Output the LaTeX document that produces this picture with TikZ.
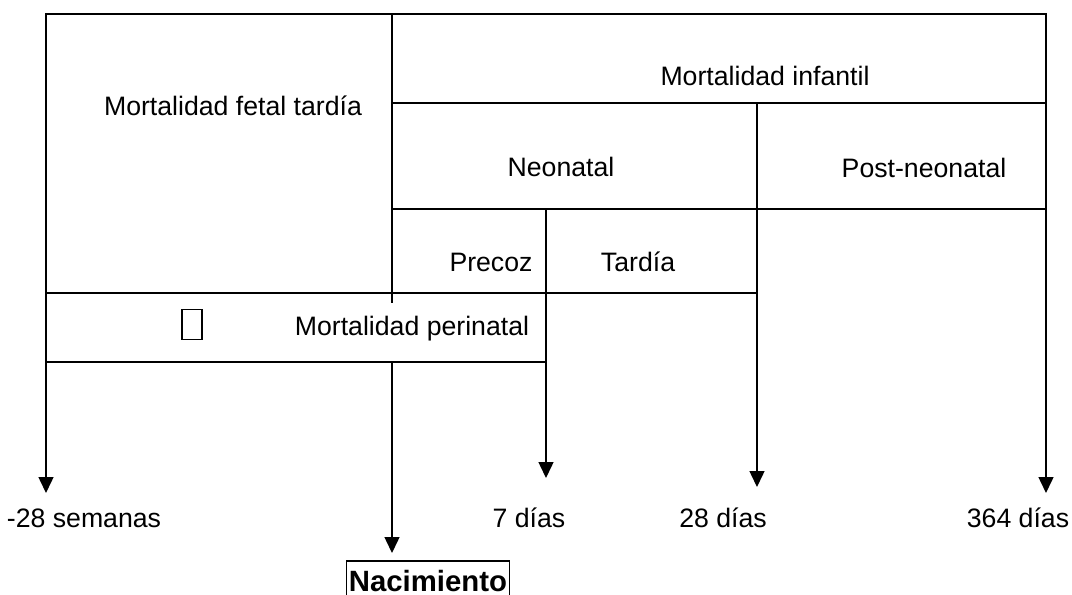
\documentclass[tikz,border=0pt]{standalone}
\usepackage{fontspec}
\setmainfont{Liberation Sans}
\usetikzlibrary{arrows.meta}
\tikzset{
  rule line/.style={line width=1.1pt, line cap=rect},
  time arrow/.style={rule line, -{Triangle[width=11.25pt,length=12pt]}},
  cell label/.style={anchor=base, inner sep=0pt, font=\fontsize{20}{24}\selectfont},
  time label/.style={cell label},
}

\begin{document}
\begin{tikzpicture}[x=0.75pt, y=-0.75pt]
      \useasboundingbox (0,0) rectangle (1072,594);

      % upper ends of the time lines
      \coordinate (s28)  at (46,14);
      \coordinate (birth) at (392,362);
      \coordinate (d7)   at (546,209);
      \coordinate (d28)  at (757,103);
      \coordinate (d364) at (1046,14);

      % lower ends (arrow tips)
      \coordinate (s28 tip)   at (46,493);
      \coordinate (birth tip) at (392,553);
      \coordinate (d7 tip)    at (546,478);
      \coordinate (d28 tip)   at (757,487);
      \coordinate (d364 tip)  at (1046,493);

      % table lines
      \draw[rule line] (s28) -- (d364);
      \draw[rule line] (392,14) -- (392,302);
      \draw[rule line] (392,103) -- (1046,103);
      \draw[rule line] (392,209) -- (1046,209);
      \draw[rule line] (46,293) -- (757,293);
      \draw[rule line] (46,362) -- (546,362);

      \node[cell label] (fetal)     at (233,115) {Mortalidad fetal tardía};
      \node[cell label] (infantil)  at (765,85)  {Mortalidad infantil};
      \node[cell label] (neonatal)  at (561,176) {Neonatal};
      \node[cell label] (postneo)   at (924,177) {Post-neonatal};
      \node[cell label] (precoz)    at (491,271) {Precoz};
      \node[cell label] (tardia)    at (638,271) {Tardía};
      \node[cell label] (perinatal) at (412,335) {Mortalidad perinatal};
      \node[draw, line width=0.9pt, minimum width=15pt, minimum height=23pt,
            inner sep=0pt] (glyph) at (192,324.5) {};

      % time lines
      \draw[time arrow] (s28)   -- (s28 tip);
      \draw[time arrow] (birth) -- (birth tip);
      \draw[time arrow] (d7)    -- (d7 tip);
      \draw[time arrow] (d28)   -- (d28 tip);
      \draw[time arrow] (d364)  -- (d364 tip);

      \node[time label] (l28s)  at (84,527)   {-28 semanas};
      \node[time label] (l7d)   at (529,527)  {7 días};
      \node[time label] (l28d)  at (723,527)  {28 días};
      \node[time label] (l364d) at (1018,527) {364 días};
      \node[draw, rule line, anchor=base, inner xsep=2pt, inner ysep=6.7pt,
            font=\bfseries\fontsize{22}{26}\selectfont] (nac) at (428,591) {Nacimiento};
\end{tikzpicture}
\end{document}
